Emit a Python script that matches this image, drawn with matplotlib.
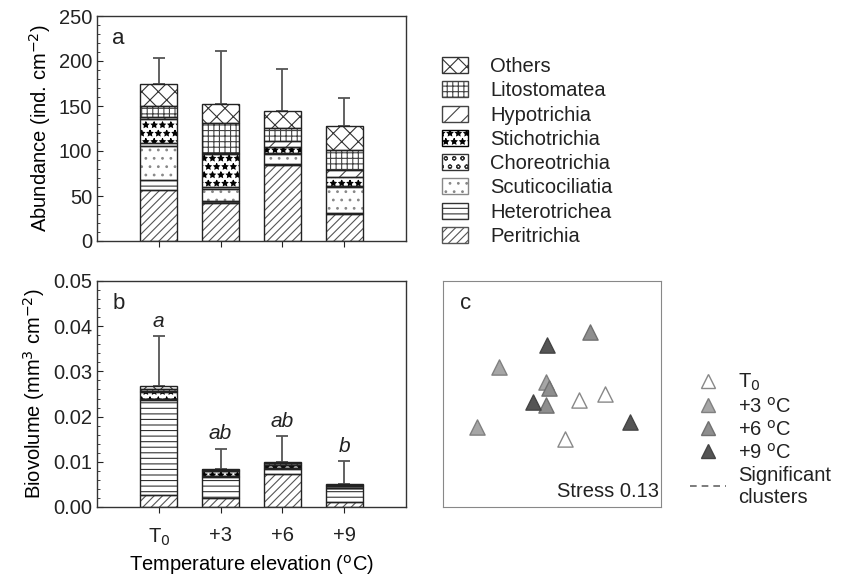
import matplotlib
matplotlib.use("Agg")
import matplotlib.pyplot as plt
from matplotlib.patches import Patch
from matplotlib.lines import Line2D

plt.rcParams['font.family'] = ['Liberation Sans', 'DejaVu Sans']
plt.rcParams['font.size'] = 14.5
plt.rcParams['hatch.linewidth'] = 0.8
plt.rcParams['text.color'] = '#222222'

# ---- data ----
treatments = ['T$_0$', '+3', '+6', '+9']
groups = ['Peritrichia', 'Heterotrichea', 'Scuticociliatia', 'Choreotrichia',
          'Stichotrichia', 'Hypotrichia', 'Litostomatea', 'Others']

# abundance (ind. cm-2), one list per group, T0,+3,+6,+9
abund_peri = [57, 42, 85, 30]
abund_hetero = [11, 2, 1, 1]
abund_scutico = [38, 14, 11, 29]
abund_choreo = [3, 2, 1, 1]
abund_sticho = [27, 37, 6, 10]
abund_hypo = [2, 1, 7, 8]
abund_lito = [12, 33, 15, 22]
abund_others = [24, 21, 19, 27]
abund_err_top = [203, 211, 191, 159]

# biovolume (mm3 cm-2)
bio_peri = [0.0027, 0.0019, 0.0073, 0.0011]
bio_hetero = [0.0209, 0.0047, 0.0012, 0.0030]
bio_scutico = [0.0002, 0.0002, 0.0001, 0.0001]
bio_choreo = [0.0001, 0.0001, 0.0001, 0.0001]
bio_sticho = [0.0016, 0.0010, 0.0005, 0.0003]
bio_hypo = [0.0001, 0.0001, 0.0001, 0.0001]
bio_lito = [0.0006, 0.0002, 0.0004, 0.0002]
bio_others = [0.0006, 0.0003, 0.0003, 0.0001]
bio_err_top = [0.0378, 0.0129, 0.0156, 0.0101]
bio_letters = ['a', 'ab', 'ab', 'b']

# NMDS ordination (arbitrary units)
nmds_t0_x = [0.626, 0.743, 0.560]
nmds_t0_y = [0.473, 0.499, 0.299]
nmds_p3_x = [0.258, 0.473, 0.156]
nmds_p3_y = [0.620, 0.554, 0.354]
nmds_p6_x = [0.675, 0.488, 0.473]
nmds_p6_y = [0.775, 0.525, 0.451]
nmds_p9_x = [0.476, 0.415, 0.857]
nmds_p9_y = [0.716, 0.465, 0.377]
stress = 0.13

hatches = ['////', '---', '..', 'oo', '**', '//', '+++', 'xx']
hatch_cols = ['#555555', '#333333', '#888888', '#333333', '#000000', '#444444', '#444444', '#333333']

abund = [abund_peri, abund_hetero, abund_scutico, abund_choreo,
         abund_sticho, abund_hypo, abund_lito, abund_others]
bio = [bio_peri, bio_hetero, bio_scutico, bio_choreo,
       bio_sticho, bio_hypo, bio_lito, bio_others]

W, H = 842, 579
fig = plt.figure(figsize=(W / 100, H / 100), dpi=100)


def px_axes(l, t, r, b):
    return fig.add_axes([l / W, 1 - b / H, (r - l) / W, (b - t) / H])


ax_a = px_axes(97, 16, 406, 241)
ax_b = px_axes(97, 281, 406, 507)
ax_c = px_axes(443, 281, 661, 507)

x = list(range(len(treatments)))
bw = 0.6


def stacked(ax, data, err_top):
    bottom = [0.0] * len(x)
    for vals, h, hc in zip(data, hatches, hatch_cols):
        ax.bar(x, vals, bw, bottom=bottom, color='white', edgecolor=hc,
               hatch=h, linewidth=0, zorder=2)
        ax.bar(x, vals, bw, bottom=bottom, fill=False, edgecolor='#222222',
               linewidth=1.0, zorder=3)
        bottom = [b + v for b, v in zip(bottom, vals)]
    err = [e - b for e, b in zip(err_top, bottom)]
    ax.errorbar(x, bottom, yerr=[[0] * len(x), err], fmt='none',
                ecolor='#555555', elinewidth=1.3, capsize=4.5, capthick=1.3, zorder=1)
    return bottom


for ax in (ax_a, ax_b):
    ax.set_xlim(-1, 4)
    ax.set_xticks(x)
    ax.tick_params(axis='y', direction='in', which='both', length=4, colors='#222222')
    ax.tick_params(axis='y', which='minor', length=2)
    ax.tick_params(axis='x', direction='out', length=4, colors='#222222')
    for s in ax.spines.values():
        s.set_color('#333333')
        s.set_linewidth(1.0)

stacked(ax_a, abund, abund_err_top)
ax_a.set_ylim(0, 250)
ax_a.set_yticks(range(0, 251, 50))
ax_a.set_yticks(range(0, 251, 10), minor=True)
ax_a.set_xticklabels([])
ax_a.set_ylabel('Abundance (ind. cm$^{-2}$)')
ax_a.text(0.05, 0.9, 'a', transform=ax_a.transAxes, fontsize=16, va='center')

tops = stacked(ax_b, bio, bio_err_top)
ax_b.set_ylim(0, 0.05)
ax_b.set_yticks([0, 0.01, 0.02, 0.03, 0.04, 0.05])
ax_b.set_yticks([i * 0.002 for i in range(26)], minor=True)
ax_b.set_yticklabels(['0.00', '0.01', '0.02', '0.03', '0.04', '0.05'])
ax_b.set_xticklabels(treatments)
ax_b.tick_params(axis='x', pad=10)
ax_b.set_ylabel('Biovolume (mm$^3$ cm$^{-2}$)')
ax_b.set_xlabel('Temperature elevation ($^{\\mathrm{o}}$C)', labelpad=4)
ax_b.text(0.05, 0.9, 'b', transform=ax_b.transAxes, fontsize=16, va='center')
for xi, e, lab in zip(x, bio_err_top, bio_letters):
    ax_b.text(xi, e + 0.0012, lab, style='italic', ha='center', va='bottom', fontsize=15)

# panel c
tri = dict(marker='^', s=120, linewidths=1.0, zorder=3)
ax_c.scatter(nmds_t0_x, nmds_t0_y, facecolor='white', edgecolor='#888888', **tri)
ax_c.scatter(nmds_p3_x, nmds_p3_y, facecolor='#a6a6a6', edgecolor='#808080', **tri)
ax_c.scatter(nmds_p6_x, nmds_p6_y, facecolor='#8e8e8e', edgecolor='#707070', **tri)
ax_c.scatter(nmds_p9_x, nmds_p9_y, facecolor='#555555', edgecolor='#444444', **tri)
ax_c.set_xlim(0, 1)
ax_c.set_ylim(0, 1)
ax_c.set_xticks([])
ax_c.set_yticks([])
for s in ax_c.spines.values():
    s.set_color('#888888')
ax_c.text(0.08, 0.9, 'c', transform=ax_c.transAxes, fontsize=16, va='center')
ax_c.text(0.99, 0.07, 'Stress %.2f' % stress, transform=ax_c.transAxes,
          ha='right', va='center', fontsize=14.5)

# legend for a
handles_a = [Patch(facecolor='white', edgecolor=hc, hatch=h, linewidth=1)
             for h, hc in zip(hatches, hatch_cols)][::-1]
fig.legend(handles_a, groups[::-1], loc='upper left',
           bbox_to_anchor=(424 / W, 1 - 39 / H), frameon=False,
           handlelength=1.3, handleheight=0.85, labelspacing=0.26,
           handletextpad=1.1, fontsize=14.5)

# legend for c
mk = dict(marker='^', linestyle='none', markersize=10)
handles_c = [Line2D([], [], markerfacecolor='white', markeredgecolor='#888888', **mk),
             Line2D([], [], markerfacecolor='#a6a6a6', markeredgecolor='#808080', **mk),
             Line2D([], [], markerfacecolor='#8e8e8e', markeredgecolor='#707070', **mk),
             Line2D([], [], markerfacecolor='#555555', markeredgecolor='#444444', **mk),
             Line2D([], [], color='#666666', linestyle=(0, (4, 3)), linewidth=1.2)]
labels_c = ['T$_0$', '+3 $^{\\mathrm{o}}$C', '+6 $^{\\mathrm{o}}$C', '+9 $^{\\mathrm{o}}$C',
            'Significant\nclusters']
fig.legend(handles_c, labels_c, loc='upper left',
           bbox_to_anchor=(672 / W, 1 - 354 / H), frameon=False,
           handlelength=1.8, labelspacing=0.15, handletextpad=0.6, fontsize=14.5)

fig.savefig('out.png', dpi=100)
